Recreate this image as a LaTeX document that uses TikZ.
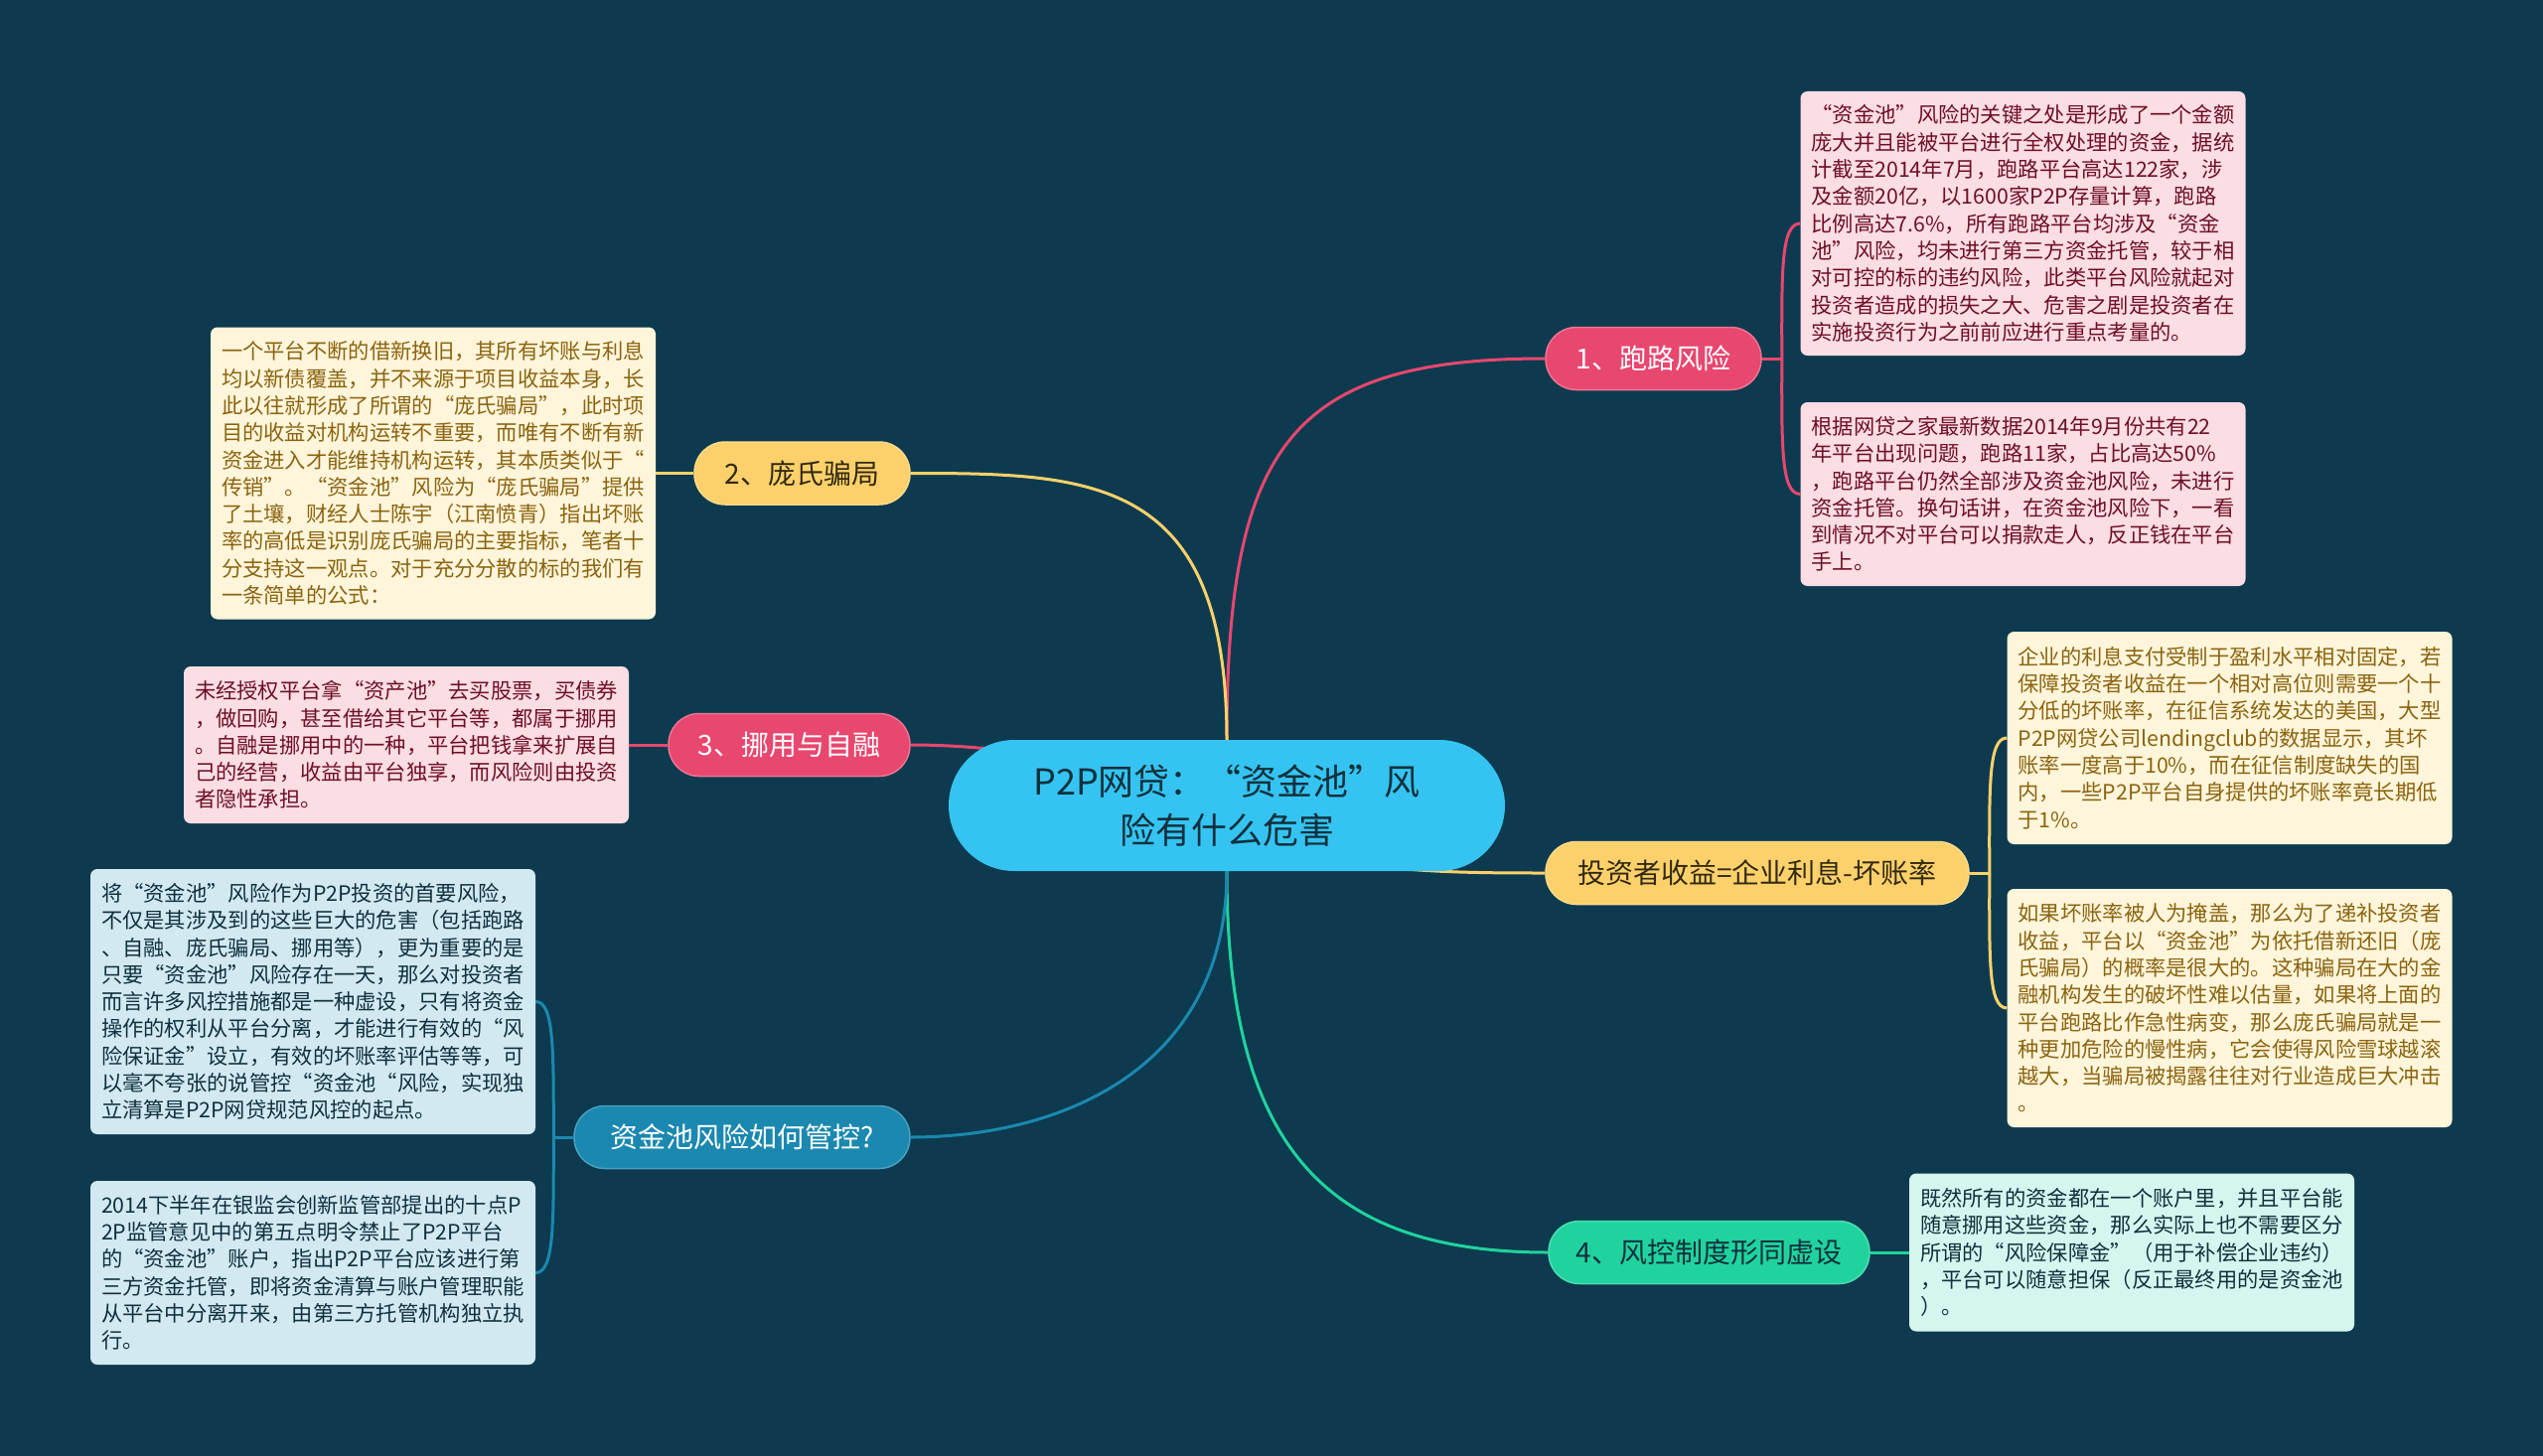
\documentclass[tikz,border=0pt]{standalone}
\usepackage{fontspec}
\setmainfont{Noto Sans CJK SC}
\usetikzlibrary{calc}
\definecolor{bgc}{HTML}{0D3A4E}
\definecolor{cpink}{HTML}{E8476F}
\definecolor{cyellow}{HTML}{FCD16B}
\definecolor{cgreen}{HTML}{20D39E}
\definecolor{cblue}{HTML}{1B88B0}
\definecolor{ccenter}{HTML}{35C4F1}
\definecolor{pinkfill}{HTML}{FBDDE4}
\definecolor{pinktext}{HTML}{6E0F26}
\definecolor{creamfill}{HTML}{FFF5DA}
\definecolor{creamtext}{HTML}{8A6410}
\definecolor{mintfill}{HTML}{D5F6EF}
\definecolor{blufill}{HTML}{D2E9F2}
\definecolor{darktext}{HTML}{10303C}
\definecolor{branchdark}{HTML}{33290F}
\pgfdeclarelayer{bglayer}
\pgfdeclarelayer{linelayer}
\pgfsetlayers{bglayer,linelayer,main}
\begin{document}
\begin{tikzpicture}[x=1pt,y=-1pt,
  leaf/.style={rectangle, rounded corners=7pt, inner xsep=10pt, inner ysep=6pt, align=left,
    minimum width=448pt, font=\fontsize{21.3pt}{27.3pt}\selectfont},
  pinkleaf/.style={leaf, fill=pinkfill, text=pinktext},
  creamleaf/.style={leaf, fill=creamfill, text=creamtext},
  mintleaf/.style={leaf, fill=mintfill, text=darktext},
  blueleaf/.style={leaf, fill=blufill, text=darktext},
  branch/.style={rectangle, rounded corners=31pt, minimum height=63pt, inner xsep=0pt,
    line width=1.5pt, font=\fontsize{28pt}{34pt}\selectfont},
  conn/.style={line width=3pt}
]
\begin{pgfonlayer}{bglayer}
\fill[bgc] (0,0) rectangle (2560,1466);
\end{pgfonlayer}

% center
\node[rectangle, rounded corners=66pt, fill=ccenter, text=darktext, minimum width=560pt,
  minimum height=132pt, align=center, font=\fontsize{36pt}{49pt}\selectfont]
  (c) at (1235,811) {P2P网贷：“资金池”风\\险有什么危害};

% branches
\node[branch, fill=cpink, draw=cpink!75!white, text=white, minimum width=217pt] (n1) at (1664.5,361) {1、跑路风险};
\node[branch, fill=cyellow, draw=cyellow!80!white, text=branchdark, minimum width=217pt] (n2) at (807.5,476.5) {2、庞氏骗局};
\node[branch, fill=cpink, draw=cpink!75!white, text=white, minimum width=243pt] (n3) at (794.5,750) {3、挪用与自融};
\node[branch, fill=cyellow, draw=cyellow!80!white, text=branchdark, minimum width=426pt] (n4) at (1769,879) {投资者收益=企业利息-坏账率};
\node[branch, fill=cgreen, draw=cgreen!80!white, text=darktext, minimum width=323pt] (n5) at (1720.5,1261) {4、风控制度形同虚设};
\node[branch, fill=cblue, draw=cblue!80!white, text=white, minimum width=338pt] (n6) at (747,1145) {资金池风险如何管控?};

% leaves
\node[pinkleaf, minimum height=266pt] (r1) at (2036.5,225) {“资金池”风险的关键之处是形成了一个金额\\
庞大并且能被平台进行全权处理的资金，据统\\
计截至2014年7月，跑路平台高达122家，涉\\
及金额20亿，以1600家P2P存量计算，跑路\\
比例高达7.6\%，所有跑路平台均涉及“资金\\
池”风险，均未进行第三方资金托管，较于相\\
对可控的标的违约风险，此类平台风险就起对\\
投资者造成的损失之大、危害之剧是投资者在\\
实施投资行为之前前应进行重点考量的。};

\node[pinkleaf, minimum height=185pt] (r2) at (2036.5,497.5) {根据网贷之家最新数据2014年9月份共有22\\
年平台出现问题，跑路11家，占比高达50\%\\
，跑路平台仍然全部涉及资金池风险，未进行\\
资金托管。换句话讲，在资金池风险下，一看\\
到情况不对平台可以捐款走人，反正钱在平台\\
手上。};

\node[creamleaf, minimum height=214pt] (r3) at (2244.5,743) {企业的利息支付受制于盈利水平相对固定，若\\
保障投资者收益在一个相对高位则需要一个十\\
分低的坏账率，在征信系统发达的美国，大型\\
P2P网贷公司lendingclub的数据显示，其坏\\
账率一度高于10\%，而在征信制度缺失的国\\
内，一些P2P平台自身提供的坏账率竟长期低\\
于1\%。};

\node[creamleaf, minimum height=240pt] (r4) at (2244.5,1015) {如果坏账率被人为掩盖，那么为了递补投资者\\
收益，平台以“资金池”为依托借新还旧（庞\\
氏骗局）的概率是很大的。这种骗局在大的金\\
融机构发生的破坏性难以估量，如果将上面的\\
平台跑路比作急性病变，那么庞氏骗局就是一\\
种更加危险的慢性病，它会使得风险雪球越滚\\
越大，当骗局被揭露往往对行业造成巨大冲击\\
。};

\node[mintleaf, minimum height=159pt] (r5) at (2146,1261) {既然所有的资金都在一个账户里，并且平台能\\
随意挪用这些资金，那么实际上也不需要区分\\
所谓的“风险保障金”（用于补偿企业违约）\\
，平台可以随意担保（反正最终用的是资金池\\
）。};

\node[creamleaf, minimum height=294pt] (l1) at (436,476.5) {一个平台不断的借新换旧，其所有坏账与利息\\
均以新债覆盖，并不来源于项目收益本身，长\\
此以往就形成了所谓的“庞氏骗局”，此时项\\
目的收益对机构运转不重要，而唯有不断有新\\
资金进入才能维持机构运转，其本质类似于“\\
传销”。“资金池”风险为“庞氏骗局”提供\\
了土壤，财经人士陈宇（江南愤青）指出坏账\\
率的高低是识别庞氏骗局的主要指标，笔者十\\
分支持这一观点。对于充分分散的标的我们有\\
一条简单的公式：};

\node[pinkleaf, minimum height=158pt] (l2) at (409,750) {未经授权平台拿“资产池”去买股票，买债券\\
，做回购，甚至借给其它平台等，都属于挪用\\
。自融是挪用中的一种，平台把钱拿来扩展自\\
己的经营，收益由平台独享，而风险则由投资\\
者隐性承担。};

\node[blueleaf, minimum height=267pt] (l3) at (315,1008.5) {将“资金池”风险作为P2P投资的首要风险，\\
不仅是其涉及到的这些巨大的危害（包括跑路\\
、自融、庞氏骗局、挪用等），更为重要的是\\
只要“资金池”风险存在一天，那么对投资者\\
而言许多风控措施都是一种虚设，只有将资金\\
操作的权利从平台分离，才能进行有效的“风\\
险保证金”设立，有效的坏账率评估等等，可\\
以毫不夸张的说管控“资金池“风险，实现独\\
立清算是P2P网贷规范风控的起点。};

\node[blueleaf, minimum height=185pt] (l4) at (315,1281.5) {2014下半年在银监会创新监管部提出的十点P\\
2P监管意见中的第五点明令禁止了P2P平台\\
的“资金池”账户，指出P2P平台应该进行第\\
三方资金托管，即将资金清算与账户管理职能\\
从平台中分离开来，由第三方托管机构独立执\\
行。};

% bracket points
\coordinate (b1) at ($(n1.east)+(20,0)$);
\coordinate (b4) at ($(n4.east)+(20,0)$);
\coordinate (b6) at ($(n6.west)+(-20,0)$);

\begin{pgfonlayer}{linelayer}
% main branches
\draw[conn, cpink] (c.north) .. controls +(0,-296) and +(-256,0) .. (n1.west);
\draw[conn, cyellow] (c.north) .. controls +(0,-265) and +(184,0) .. (n2.east);
\draw[conn, cpink] (n3.east) .. controls +(100,0) and +(-100,-40) .. (c.center);
\draw[conn, cyellow] (c.center) .. controls +(60,67) and +(-120,0) .. (n4.west);
\draw[conn, cgreen] (c.south) .. controls +(0,270) and +(-230,0) .. (n5.west);
\draw[conn, cblue] (c.south) .. controls +(0,200) and +(150,0) .. (n6.east);
% leaf connectors
\draw[conn, cpink] (n1.east) -- (b1);
\draw[conn, cpink] (b1) .. controls +(0,-85) and +(-20,0) .. (r1.west);
\draw[conn, cpink] (b1) .. controls +(0,85) and +(-20,0) .. (r2.west);
\draw[conn, cyellow] (n2.west) -- (l1.east);
\draw[conn, cpink] (n3.west) -- (l2.east);
\draw[conn, cyellow] (n4.east) -- (b4);
\draw[conn, cyellow] (b4) .. controls +(0,-85) and +(-19,0) .. (r3.west);
\draw[conn, cyellow] (b4) .. controls +(0,85) and +(-19,0) .. (r4.west);
\draw[conn, cgreen] (n5.east) -- (r5.west);
\draw[conn, cblue] (n6.west) -- (b6);
\draw[conn, cblue] (b6) .. controls +(0,-85) and +(19,0) .. (l3.east);
\draw[conn, cblue] (b6) .. controls +(0,85) and +(19,0) .. (l4.east);
\end{pgfonlayer}
\end{tikzpicture}
\end{document}
